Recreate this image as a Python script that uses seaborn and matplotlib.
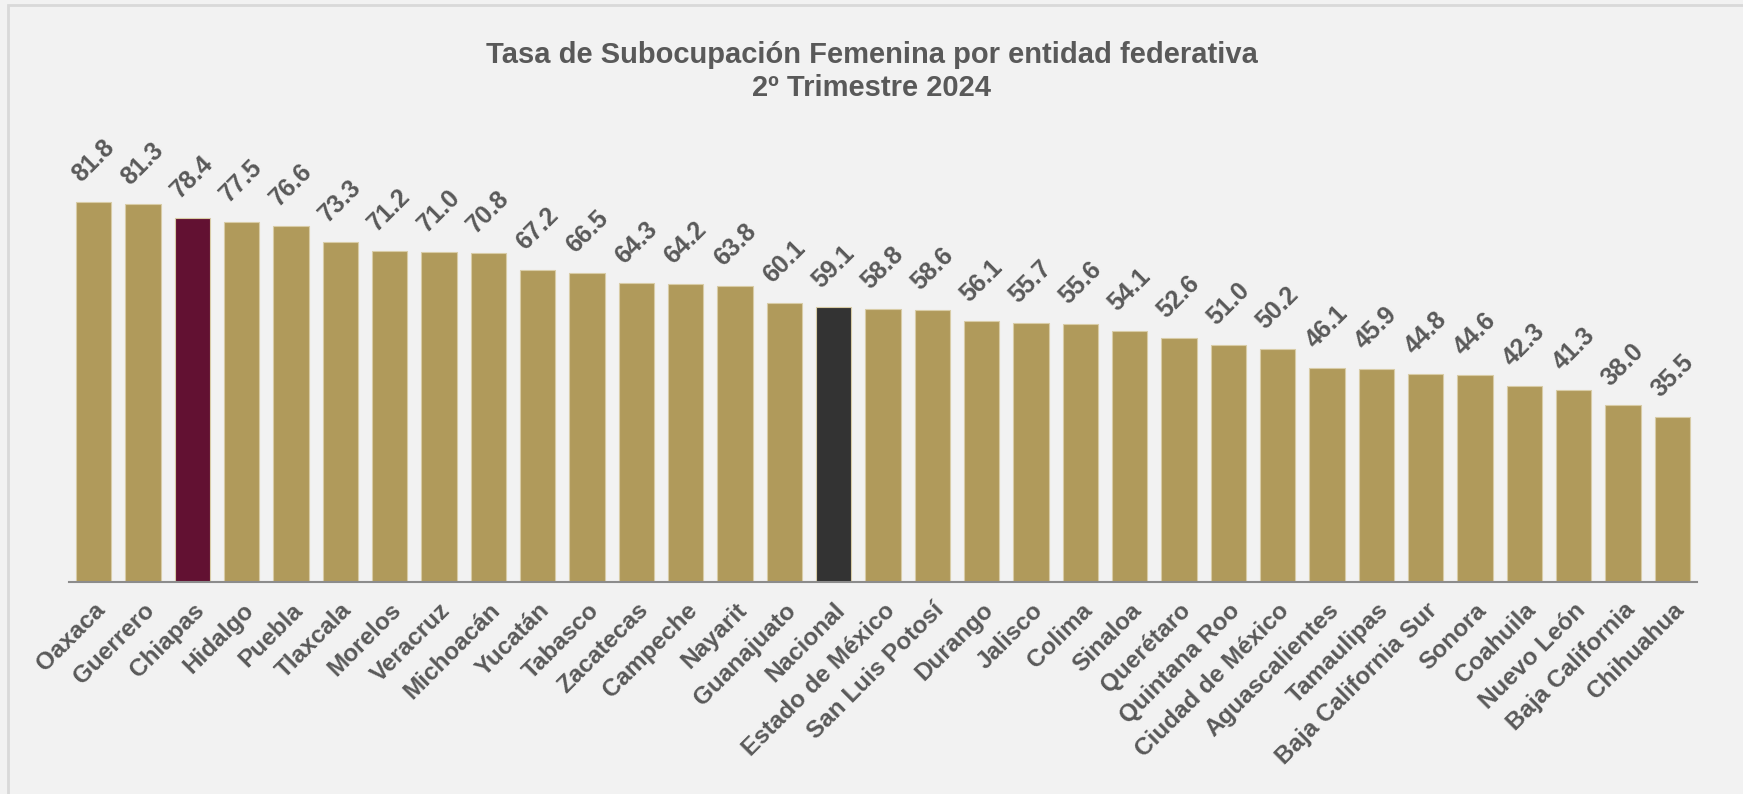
import matplotlib
matplotlib.use('Agg')
import matplotlib.pyplot as plt
import seaborn as sns
import pandas as pd
from matplotlib.patches import Rectangle

estados = ['Oaxaca', 'Guerrero', 'Chiapas', 'Hidalgo', 'Puebla', 'Tlaxcala', 'Morelos',
           'Veracruz', 'Michoacán', 'Yucatán', 'Tabasco', 'Zacatecas', 'Campeche', 'Nayarit',
           'Guanajuato', 'Nacional', 'Estado de México', 'San Luis Potosí', 'Durango',
           'Jalisco', 'Colima', 'Sinaloa', 'Querétaro', 'Quintana Roo', 'Ciudad de México',
           'Aguascalientes', 'Tamaulipas', 'Baja California Sur', 'Sonora', 'Coahuila',
           'Nuevo León', 'Baja California', 'Chihuahua']
tasa = [81.8, 81.3, 78.4, 77.5, 76.6, 73.3, 71.2, 71.0, 70.8, 67.2, 66.5, 64.3, 64.2, 63.8,
        60.1, 59.1, 58.8, 58.6, 56.1, 55.7, 55.6, 54.1, 52.6, 51.0, 50.2, 46.1, 45.9, 44.8,
        44.6, 42.3, 41.3, 38.0, 35.5]

oro = '#B09A5B'
colores = {e: oro for e in estados}
colores['Chiapas'] = '#621132'
colores['Nacional'] = '#333333'

gris = '#595959'
fondo = '#F2F2F2'

df = pd.DataFrame({'estado': estados, 'tasa': tasa})

sns.set_style('white')
plt.rcParams['font.family'] = ['Liberation Sans', 'DejaVu Sans']

fig = plt.figure(figsize=(17.43, 7.94), dpi=100, facecolor=fondo)
ax = fig.add_axes([69 / 1743, 1 - 582 / 794, (1697 - 69) / 1743, 464.5 / 794])
ax.set_facecolor(fondo)

sns.barplot(data=df, x='estado', y='tasa', hue='estado', palette=colores, legend=False,
            saturation=1, width=0.71, edgecolor='#D8CCA6', linewidth=0.8, ax=ax)

ax.set_ylim(0, 100)
ax.set_xlim(-0.5, len(estados) - 0.5)
ax.set_xticks([i - 0.5 for i in range(len(estados) + 1)], minor=False)
ax.set_xticklabels([])
ax.set_xticks(range(len(estados)), minor=True)
ax.set_xticklabels(estados, minor=True, rotation=45, ha='right', rotation_mode='anchor',
                   fontsize=17.5, fontweight='bold', color=gris)
ax.tick_params(axis='x', which='major', length=7, width=1.5, color='#8C8C8C', direction='out')
ax.tick_params(axis='x', which='minor', length=0, pad=12)
ax.set_yticks([])
ax.set_xlabel('')
ax.set_ylabel('')
for s in ['top', 'right', 'left']:
    ax.spines[s].set_visible(False)
ax.spines['bottom'].set_color('#8C8C8C')
ax.spines['bottom'].set_linewidth(1.5)

for i, v in enumerate(tasa):
    ax.annotate(f'{v:.1f}', (i, v), xytext=(0, 11), textcoords='offset points',
                ha='center', va='bottom', rotation=45, fontsize=18, fontweight='bold',
                color=gris)

fig.text(0.5, 1 - 55 / 794, 'Tasa de Subocupación Femenina por entidad federativa',
         ha='center', va='center', fontsize=21, fontweight='bold', color=gris)
fig.text(0.5, 1 - 88 / 794, '2º Trimestre 2024',
         ha='center', va='center', fontsize=21, fontweight='bold', color=gris)

fig.patches.append(Rectangle((8 / 1743, -0.1), 1.2, 1 - 5 / 794 + 0.1, transform=fig.transFigure,
                             fill=False, edgecolor='#D9D9D9', linewidth=2, figure=fig))

fig.savefig('out.png', dpi=100, facecolor=fondo)
